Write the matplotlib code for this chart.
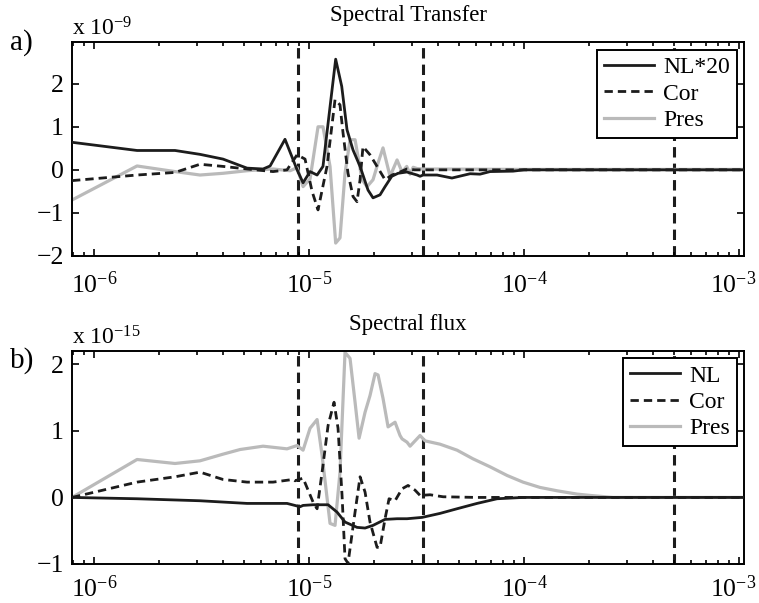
import matplotlib
matplotlib.use("Agg")
import matplotlib.pyplot as plt
import numpy as np
from matplotlib.ticker import LogLocator, NullFormatter, LogFormatterMathtext
from matplotlib.transforms import ScaledTranslation

plt.rcParams['font.family'] = ['Liberation Serif', 'DejaVu Serif']
plt.rcParams['mathtext.fontset'] = 'custom'
plt.rcParams['mathtext.rm'] = 'Liberation Serif'
plt.rcParams['mathtext.it'] = 'Liberation Serif:italic'
plt.rcParams['axes.unicode_minus'] = True

# frequency in units of 1e-6
# --- a) spectral transfer (x 1e-9)
nl_a_f = [0.79, 1.585, 2.38, 3.11, 3.98, 4.78, 5.15, 6.11, 6.59, 7.73, 8.80, 9.38, 10.11,
          10.9, 11.61, 13.30, 14.19, 15.02, 16.02, 17.27, 18.81, 19.84, 21.39, 22.57, 24.25,
          25.94, 28.47, 31.8, 32.84, 33.9, 39.4, 46.2, 56.1, 62.4, 69.5, 88.9, 100, 1055]
nl_a = [0.64, 0.45, 0.45, 0.36, 0.25, 0.10, 0.04, 0.02, 0.09, 0.71, 0.0, -0.30, -0.04,
        -0.12, 0.08, 2.57, 1.94, 0.93, 0.46, 0.08, -0.47, -0.65, -0.58, -0.39, -0.15,
        -0.08, -0.05, -0.12, -0.15, -0.12, -0.12, -0.19, -0.09, -0.10, -0.04, -0.03, 0.0, 0.0]

cor_a_f = [0.79, 1.585, 2.38, 3.11, 3.98, 5.15, 6.8, 7.9, 8.8, 9.58, 10.33, 11.01, 12.12,
           13.21, 13.93, 14.39, 15.18, 16.02, 16.72, 17.27, 17.82, 19.21, 20.72, 22.57,
           24.32, 26.5, 28.5, 31.0, 1055]
cor_a = [-0.25, -0.12, -0.06, 0.13, 0.08, 0.02, -0.04, 0.0, 0.35, 0.25, -0.5, -0.93, 0.08,
         1.63, 1.51, 0.86, -0.08, -0.62, -0.74, -0.23, 0.54, 0.35, 0.08, -0.23,
         -0.12, -0.05, 0.02, 0.0, 0.0]

pres_a_f = [0.79, 1.585, 2.38, 3.11, 3.98, 5.15, 6.8, 8.16, 8.8, 9.38, 10.11, 11.01, 11.61,
            12.52, 13.30, 13.93, 14.70, 15.51, 16.37, 17.64, 18.61, 19.84, 20.94, 22.08,
            23.81, 25.67, 27.08, 28.47, 29.5, 30.5, 31.8, 33.9, 100, 1055]
pres_a = [-0.70, 0.09, -0.04, -0.12, -0.08, -0.02, 0.02, -0.02, 0.05, -0.39, -0.21, 1.0, 1.0,
          0.08, -1.70, -1.58, -0.08, 0.70, 0.70, -0.23, -0.39, -0.23, 0.16, 0.51,
          -0.15, 0.23, -0.05, 0.08, -0.10, 0.06, 0.03, 0.02, 0.01, 0.01]

# --- b) spectral flux (x 1e-15)
nl_b_f = [0.79, 1.585, 3.11, 5.15, 7.9, 9.08, 9.38, 10.44, 12.26, 13.49, 14.70, 16.72,
          18.22, 19.84, 22.57, 25.67, 28.56, 33.55, 40.66, 48.8, 60.45, 74.9, 98.9, 1055]
nl_b = [0.0, -0.02, -0.05, -0.09, -0.09, -0.14, -0.12, -0.11, -0.11, -0.22, -0.37, -0.45,
        -0.46, -0.42, -0.33, -0.32, -0.32, -0.30, -0.24, -0.17, -0.09, -0.02, 0.0, 0.0]

cor_b_f = [0.79, 1.585, 2.38, 3.11, 3.98, 5.15, 6.8, 8.42, 8.61, 9.38, 10.44, 10.9, 11.5,
           12.26, 13.07, 13.64, 14.24, 14.70, 15.18, 16.37, 17.27, 18.22, 19.21, 20.72,
           21.39, 22.57, 23.56, 25.12, 27.08, 28.87, 31.1, 32.84, 36.55, 42.0, 60.0, 1055]
cor_b = [0.0, 0.23, 0.31, 0.38, 0.27, 0.23, 0.23, 0.27, 0.25, 0.29, -0.07, -0.17, 0.38,
         1.08, 1.43, 1.04, 0.03, -0.92, -0.99, -0.22, 0.31, 0.08, -0.37, -0.75,
         -0.75, -0.32, -0.02, -0.05, 0.13, 0.18, 0.11, 0.03, 0.04, 0.01, 0.0, 0.0]

pres_b_f = [0.79, 1.585, 2.38, 3.11, 3.98, 4.78, 6.11, 7.9, 8.8, 9.38, 10.11, 10.9, 11.5,
            12.52, 13.21, 13.93, 14.70, 15.51, 16.37, 17.09, 18.22, 19.21, 20.28, 20.94,
            22.08, 23.31, 25.12, 26.5, 27.08, 28.56, 29.5, 32.84, 34.64, 40.66, 48.8, 57.9,
            69.5, 83.4, 98.9, 118.7, 142.4, 176.4, 203, 259, 1055]
pres_b = [0.0, 0.57, 0.51, 0.55, 0.65, 0.72, 0.77, 0.73, 0.78, 0.71, 1.04, 1.17, 0.63,
          -0.39, -0.42, 0.38, 2.18, 2.09, 1.43, 0.89, 1.28, 1.53, 1.86, 1.84,
          1.49, 1.06, 1.13, 0.93, 0.88, 0.83, 0.77, 0.93, 0.85, 0.80, 0.71, 0.58,
          0.46, 0.33, 0.23, 0.15, 0.10, 0.05, 0.03, 0.0, 0.0]

vlines = [8.9e-6, 3.39e-5, 5.0e-4]
x_lim = (7.9e-7, 1.055e-3)

black = '#1c1c1c'
gray = '#bababa'
lw = 2.0

fig = plt.figure(figsize=(7.59, 6.03), dpi=100)
ax_a = fig.add_axes([0.0949, 0.5755, 0.8854, 0.3549])
ax_b = fig.add_axes([0.0949, 0.0647, 0.8854, 0.3532])


def style(ax, ylim, yticks, xpad):
    ax.set_xscale('log')
    ax.set_xlim(*x_lim)
    ax.set_ylim(*ylim)
    ax.set_yticks(yticks)
    ax.set_xticks([1e-6, 1e-5, 1e-4, 1e-3])
    ax.xaxis.set_minor_locator(LogLocator(base=10, subs=np.arange(2, 10), numticks=20))
    ax.xaxis.set_minor_formatter(NullFormatter())
    ax.xaxis.set_major_formatter(LogFormatterMathtext())
    ax.tick_params(which='both', direction='in', top=True, right=True, labelsize=18.5, width=1.2)
    ax.tick_params(which='major', length=5)
    ax.tick_params(which='minor', length=2.8)
    ax.tick_params(axis='x', pad=xpad)
    ax.tick_params(axis='y', pad=6)
    for s in ax.spines.values():
        s.set_linewidth(1.4)
    for v in vlines:
        ax.axvline(v, color=black, lw=2.2, dashes=(3.4, 2.0), zorder=1)


def plot_panel(ax, series, labels, legend_anchor):
    (f1, y1), (f2, y2), (f3, y3) = series
    ax.plot(np.array(f1) * 1e-6, y1, color=black, lw=lw, label=labels[0], zorder=3)
    ax.plot(np.array(f2) * 1e-6, y2, color=black, lw=lw, dashes=(3.0, 1.8), label=labels[1], zorder=3)
    ax.plot(np.array(f3) * 1e-6, y3, color=gray, lw=lw + 0.3, label=labels[2], zorder=2)
    leg = ax.legend(loc='upper right', bbox_to_anchor=legend_anchor, borderaxespad=0,
                    fancybox=False, framealpha=1, edgecolor='black', fontsize=17,
                    handlelength=2.1, handletextpad=0.4, labelspacing=0.2,
                    borderpad=0.3)
    leg.get_frame().set_linewidth(1.4)


style(ax_a, (-2, 2.97), [-2, -1, 0, 1, 2], 11)
plot_panel(ax_a, [(nl_a_f, nl_a), (cor_a_f, cor_a), (pres_a_f, pres_a)],
           ['NL*20', 'Cor', 'Pres'], (0.99, 0.963))
ax_a.set_title('Spectral Transfer', fontsize=16.5, pad=15)

style(ax_b, (-1, 2.2), [-1, 0, 1, 2], 8)
plot_panel(ax_b, [(nl_b_f, nl_b), (cor_b_f, cor_b), (pres_b_f, pres_b)],
           ['NL', 'Cor', 'Pres'], (0.99, 0.967))
ax_b.set_title('Spectral flux', fontsize=16.5, pad=15)

W, H = 759, 603
fig.text(72 / W, 1 - 35 / H, r'x 10$^{\mathdefault{-9}}$', fontsize=17, va='baseline')
fig.text(72 / W, 1 - 345 / H, r'x 10$^{\mathdefault{-15}}$', fontsize=17, va='baseline')
fig.text(10 / W, 1 - 50 / H, 'a)', fontsize=21, va='baseline')
fig.text(10 / W, 1 - 368 / H, 'b)', fontsize=21, va='baseline')

# pull the last x label (10^-3) a little left so it stays inside the figure
fig.canvas.draw()
shift = ScaledTranslation(-6 / 100, 0, fig.dpi_scale_trans)
for ax in (ax_a, ax_b):
    last = ax.xaxis.get_major_ticks()[-1]
    last.label1.set_transform(last.label1.get_transform() + shift)

fig.savefig('out.png', dpi=100)
